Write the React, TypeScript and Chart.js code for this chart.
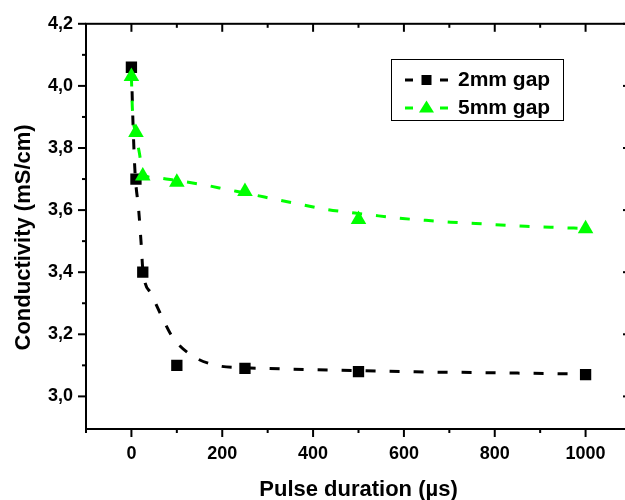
import React, { useEffect, useRef } from 'react';
import { Chart, registerables } from 'chart.js';

Chart.register(...registerables);

// ---- data ----
const pulse2 = [0, 10, 25, 100, 250, 500, 1000];
const cond2 = [4.06, 3.70, 3.40, 3.10, 3.09, 3.08, 3.07];
const pulse5 = [0, 10, 25, 100, 250, 500, 1000];
const cond5 = [4.03, 3.85, 3.71, 3.69, 3.66, 3.57, 3.54];

// dashed fit curves
const fit2X = [0, 3.5, 8, 16, 22, 25, 44, 66, 91, 135, 187, 250, 300, 400, 500, 625, 750, 850, 1000];
const fit2Y = [4.06, 3.88, 3.72, 3.60, 3.48, 3.41, 3.33, 3.26, 3.19, 3.13, 3.10, 3.092, 3.09, 3.086, 3.083, 3.079, 3.077, 3.075, 3.072];
const fit5X = [0, 2, 9, 18, 25, 50, 100, 157, 212, 267, 319, 374, 429, 484, 535, 597, 648, 703, 758, 813, 868, 923, 974, 1000];
const fit5Y = [4.03, 3.93, 3.85, 3.78, 3.715, 3.705, 3.695, 3.682, 3.666, 3.650, 3.634, 3.618, 3.602, 3.592, 3.583, 3.573, 3.567, 3.561, 3.557, 3.552, 3.548, 3.545, 3.542, 3.541];

const seriesLabels = ['2mm gap', '5mm gap'];
const seriesColors = ['#000000', '#00ff00'];

const xMajorTicks = [0, 200, 400, 600, 800, 1000];
const xMinorTicks = [-100, 100, 300, 500, 700, 900, 1100];
const yMajorTicks = [3.0, 3.2, 3.4, 3.6, 3.8, 4.0, 4.2];
const yMinorTicks = [3.1, 3.3, 3.5, 3.7, 3.9, 4.1];

const xTitle = 'Pulse duration (µs)';
const yTitle = 'Conductivity (mS/cm)';

const FONT = 'Arial, "Liberation Sans", Helvetica, sans-serif';

const zip = (xs: number[], ys: number[]) => xs.map((x, i) => ({ x, y: ys[i] }));

const framePlugin = {
  id: 'frameTicks',
  afterDraw(chart: any) {
    const ctx = chart.ctx;
    const { left, right, top, bottom } = chart.chartArea;
    const xs = chart.scales.x;
    const ys = chart.scales.y;
    ctx.save();
    ctx.strokeStyle = '#000';
    ctx.lineWidth = 2;
    ctx.strokeRect(left, top, right - left, bottom - top);
    const seg = (x1: number, y1: number, x2: number, y2: number) => {
      ctx.beginPath();
      ctx.moveTo(x1, y1);
      ctx.lineTo(x2, y2);
      ctx.stroke();
    };
    const drawX = (vals: number[], len: number) =>
      vals.forEach((v) => {
        const px = xs.getPixelForValue(v);
        seg(px, bottom, px, bottom + len);
        seg(px, top, px, top + len);
      });
    const drawY = (vals: number[], len: number) =>
      vals.forEach((v) => {
        const py = ys.getPixelForValue(v);
        seg(left - len, py, left, py);
        seg(right - len, py, right, py);
      });
    drawX(xMajorTicks, 8);
    drawX(xMinorTicks, 4);
    drawY(yMajorTicks, 8);
    drawY(yMinorTicks, 4);

    // y axis title
    ctx.fillStyle = '#000';
    ctx.font = `bold 22px ${FONT}`;
    ctx.textAlign = 'center';
    ctx.textBaseline = 'middle';
    ctx.translate(24, (top + bottom) / 2 + 11);
    ctx.rotate(-Math.PI / 2);
    ctx.fillText(yTitle, 0, 0);
    ctx.restore();
  },
};

const legendPlugin = {
  id: 'boxLegend',
  afterDraw(chart: any) {
    const ctx = chart.ctx;
    ctx.save();
    ctx.strokeStyle = '#000';
    ctx.lineWidth = 1;
    ctx.strokeRect(391.5, 59.5, 172, 61);
    const rows = [
      { y: 80, label: seriesLabels[0], color: seriesColors[0], shape: 'rect' },
      { y: 108, label: seriesLabels[1], color: seriesColors[1], shape: 'triangle' },
    ];
    rows.forEach((r) => {
      ctx.strokeStyle = r.color;
      ctx.fillStyle = r.color;
      ctx.lineWidth = 3;
      ctx.beginPath();
      ctx.moveTo(405, r.y);
      ctx.lineTo(413, r.y);
      ctx.moveTo(440, r.y);
      ctx.lineTo(448, r.y);
      ctx.stroke();
      if (r.shape === 'rect') {
        ctx.fillRect(421.5, r.y - 5, 10, 10);
      } else {
        ctx.beginPath();
        ctx.moveTo(426.5, r.y - 7.5);
        ctx.lineTo(434, r.y + 4.5);
        ctx.lineTo(419, r.y + 4.5);
        ctx.closePath();
        ctx.fill();
      }
      ctx.fillStyle = '#000';
      ctx.font = `bold 21px ${FONT}`;
      ctx.textAlign = 'left';
      ctx.textBaseline = 'middle';
      ctx.fillText(r.label, 458, r.y);
    });
    ctx.restore();
  },
};

export default function App() {
  const ref = useRef<HTMLCanvasElement | null>(null);
  useEffect(() => {
    if (!ref.current) return;
    const chart = new Chart(ref.current, {
      type: 'scatter',
      data: {
        datasets: [
          {
            label: seriesLabels[1],
            data: zip(pulse5, cond5),
            pointStyle: 'triangle',
            pointRadius: 9,
            backgroundColor: seriesColors[1],
            borderColor: seriesColors[1],
            borderWidth: 0,
            showLine: false,
            order: 0,
          },
          {
            label: seriesLabels[0],
            data: zip(pulse2, cond2),
            pointStyle: 'rect',
            pointRadius: 8,
            backgroundColor: seriesColors[0],
            borderColor: seriesColors[0],
            borderWidth: 0,
            showLine: false,
            order: 1,
          },
          {
            label: seriesLabels[1] + ' fit',
            data: zip(fit5X, fit5Y),
            showLine: true,
            pointRadius: 0,
            borderColor: seriesColors[1],
            borderWidth: 3,
            borderDash: [10, 14],
            cubicInterpolationMode: 'monotone',
            order: 2,
          },
          {
            label: seriesLabels[0] + ' fit',
            data: zip(fit2X, fit2Y),
            showLine: true,
            pointRadius: 0,
            borderColor: seriesColors[0],
            borderWidth: 3,
            borderDash: [10, 14],
            cubicInterpolationMode: 'monotone',
            order: 3,
          },
        ],
      },
      options: {
        responsive: false,
        animation: false,
        devicePixelRatio: 1,
        layout: { padding: { top: 21, right: 8, left: 0, bottom: 0 } },
        plugins: { legend: { display: false }, tooltip: { enabled: false } },
        scales: {
          x: {
            type: 'linear',
            min: -100,
            max: 1100,
            afterBuildTicks: (s: any) => {
              s.ticks = xMajorTicks.map((v) => ({ value: v }));
            },
            afterFit: (s: any) => {
              s.height = 71;
            },
            grid: { display: false, drawTicks: false },
            border: { display: false },
            ticks: {
              padding: 14,
              color: '#000',
              font: { family: FONT, size: 18, weight: 'bold' },
              maxRotation: 0,
              callback: (v: any) => String(v),
            },
            title: {
              display: true,
              text: xTitle,
              color: '#000',
              font: { family: FONT, size: 22, weight: 'bold', lineHeight: 0.9 },
              padding: { top: 0, bottom: 0 },
            },
          },
          y: {
            type: 'linear',
            min: 2.895,
            max: 4.2,
            afterBuildTicks: (s: any) => {
              s.ticks = yMajorTicks.map((v) => ({ value: v }));
            },
            afterFit: (s: any) => {
              s.width = 86;
            },
            grid: { display: false, drawTicks: false },
            border: { display: false },
            ticks: {
              padding: 13,
              color: '#000',
              font: { family: FONT, size: 18, weight: 'bold' },
              callback: (v: any) => Number(v).toFixed(1).replace('.', ','),
            },
          },
        },
      },
      plugins: [framePlugin, legendPlugin],
    });
    return () => chart.destroy();
  }, []);
  return (
    <div
      style={{
        position: 'fixed',
        left: 0,
        top: 0,
        width: 625,
        height: 500,
        overflow: 'hidden',
        background: '#fff',
      }}
    >
      <canvas ref={ref} width={640} height={500} style={{ display: 'block' }} />
    </div>
  );
}
